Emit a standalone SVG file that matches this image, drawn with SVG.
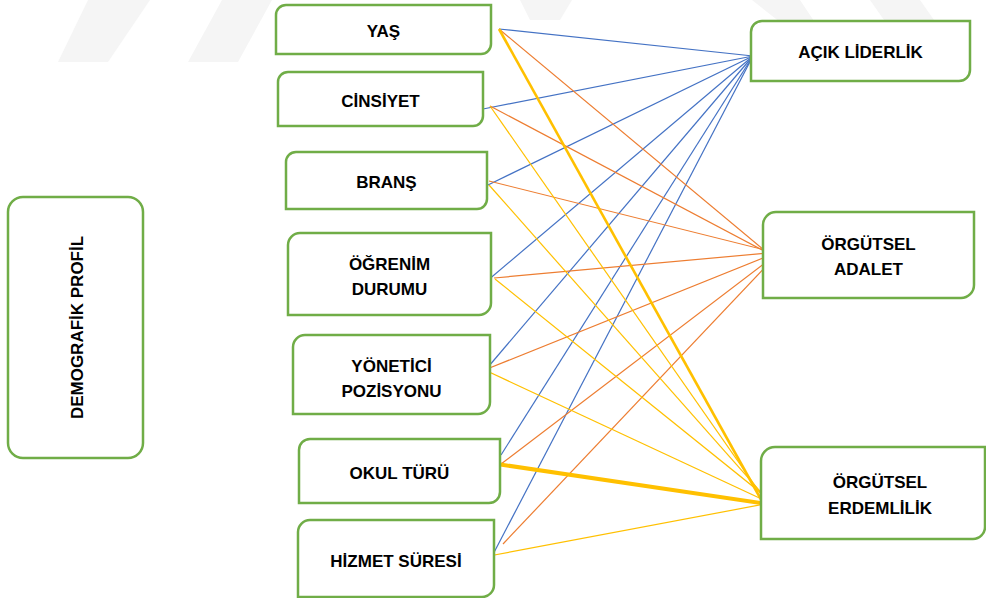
<svg xmlns="http://www.w3.org/2000/svg" width="986" height="598" viewBox="0 0 986 598">
<style>
.box{fill:#fff;stroke:#70AD47;stroke-width:2.5}
.t{font-family:"Liberation Sans",Arial,sans-serif;font-weight:bold;font-size:17px;fill:#000;text-anchor:middle}
.b{stroke:#4472C4;stroke-width:1.2;fill:none}
.o{stroke:#ED7D31;stroke-width:1.2;fill:none}
.g{stroke:#FFC000;stroke-width:1.2;fill:none}
.g2{stroke:#FFC000;stroke-width:2.6;fill:none}
.g4{stroke:#FFC000;stroke-width:4;fill:none}
.wm{fill:#f5f5f5}
</style>
<rect width="986" height="598" fill="#fff"/>
<g id="watermark">
<polygon class="wm" points="88,0 150,0 108,62 58,62"/>
<polygon class="wm" points="222,0 272,0 238,62 188,62"/>
<polygon class="wm" points="520,0 572,0 560,20 530,20"/>
<polygon class="wm" points="752,0 800,0 820,30 790,30"/>
<polygon class="wm" points="870,0 920,0 955,50 905,50"/>
</g>
<g id="connectors">
<line class="b" x1="499" y1="29" x2="753" y2="56"/>
<line class="b" x1="483" y1="109" x2="753" y2="56"/>
<line class="b" x1="488" y1="185" x2="753" y2="56"/>
<line class="b" x1="487" y1="281" x2="753" y2="56"/>
<line class="b" x1="483" y1="373" x2="753" y2="56"/>
<line class="b" x1="501" y1="455" x2="753" y2="56"/>
<line class="b" x1="488" y1="564" x2="753" y2="56"/>
<line class="o" x1="499" y1="29" x2="764" y2="250"/>
<line class="o" x1="490" y1="106" x2="764" y2="251"/>
<line class="o" x1="489" y1="181" x2="765" y2="250"/>
<line class="o" x1="494" y1="278" x2="768" y2="253"/>
<line class="o" x1="487" y1="369" x2="768" y2="256"/>
<line class="o" x1="501" y1="464" x2="769" y2="260"/>
<line class="o" x1="503" y1="544" x2="769" y2="263"/>
<line class="g" x1="490" y1="106" x2="765" y2="500"/>
<line class="g" x1="489" y1="185" x2="767" y2="499"/>
<line class="g" x1="495" y1="279" x2="766" y2="497"/>
<line class="g" x1="487" y1="371" x2="768" y2="502"/>
<line class="g" x1="489" y1="556" x2="765" y2="504"/>
<line class="g2" x1="499" y1="29" x2="763" y2="503"/>
<line class="g4" x1="497" y1="464" x2="767" y2="504"/>
</g>
<g id="demografik">
<rect class="box" x="8" y="197" width="135" height="261" rx="15"/>
<text class="t" transform="translate(83,327.5) rotate(-90)">DEMOGRAFİK PROFİL</text>
</g>
<g id="yas">
<path class="box" d="M286,5 H491 V44 A10,10 0 0 1 481,54 H276 V15 A10,10 0 0 1 286,5 Z"/>
<text class="t" x="383.5" y="37">YAŞ</text>
</g>
<g id="cinsiyet">
<path class="box" d="M288,72 H483 V116 A10,10 0 0 1 473,126 H278 V82 A10,10 0 0 1 288,72 Z"/>
<text class="t" x="380.5" y="107">CİNSİYET</text>
</g>
<g id="brans">
<path class="box" d="M296,152 H487 V199 A10,10 0 0 1 477,209 H286 V162 A10,10 0 0 1 296,152 Z"/>
<text class="t" x="386.5" y="188">BRANŞ</text>
</g>
<g id="ogrenim">
<path class="box" d="M300,233 H491 V303 A12,12 0 0 1 479,315 H288 V245 A12,12 0 0 1 300,233 Z"/>
<text class="t" x="389.5" y="270">ÖĞRENİM</text>
<text class="t" x="389.5" y="295">DURUMU</text>
</g>
<g id="yonetici">
<path class="box" d="M305,335 H490 V402 A12,12 0 0 1 478,414 H293 V347 A12,12 0 0 1 305,335 Z"/>
<text class="t" x="391.5" y="372">YÖNETİCİ</text>
<text class="t" x="391.5" y="397">POZİSYONU</text>
</g>
<g id="okul">
<path class="box" d="M310,439 H500 V492 A11,11 0 0 1 489,503 H299 V450 A11,11 0 0 1 310,439 Z"/>
<text class="t" x="399.5" y="479">OKUL TÜRÜ</text>
</g>
<g id="hizmet">
<path class="box" d="M310,520 H494 V585 A12,12 0 0 1 482,597 H298 V532 A12,12 0 0 1 310,520 Z"/>
<text class="t" x="396" y="567">HİZMET SÜRESİ</text>
</g>
<g id="acik">
<path class="box" d="M762,21 H970 V70 A11,11 0 0 1 959,81 H751 V32 A11,11 0 0 1 762,21 Z"/>
<text class="t" x="860.5" y="58">AÇIK LİDERLİK</text>
</g>
<g id="adalet">
<path class="box" d="M776,212 H974 V285 A13,13 0 0 1 961,298 H763 V225 A13,13 0 0 1 776,212 Z"/>
<text class="t" x="868.5" y="250">ÖRGÜTSEL</text>
<text class="t" x="868.5" y="275">ADALET</text>
</g>
<g id="erdem">
<path class="box" d="M775,447 H985 V527 A12,12 0 0 1 973,539 H761 V461 A14,14 0 0 1 775,447 Z"/>
<text class="t" x="880" y="488">ÖRGÜTSEL</text>
<text class="t" x="880" y="514">ERDEMLİLİK</text>
</g>
</svg>
